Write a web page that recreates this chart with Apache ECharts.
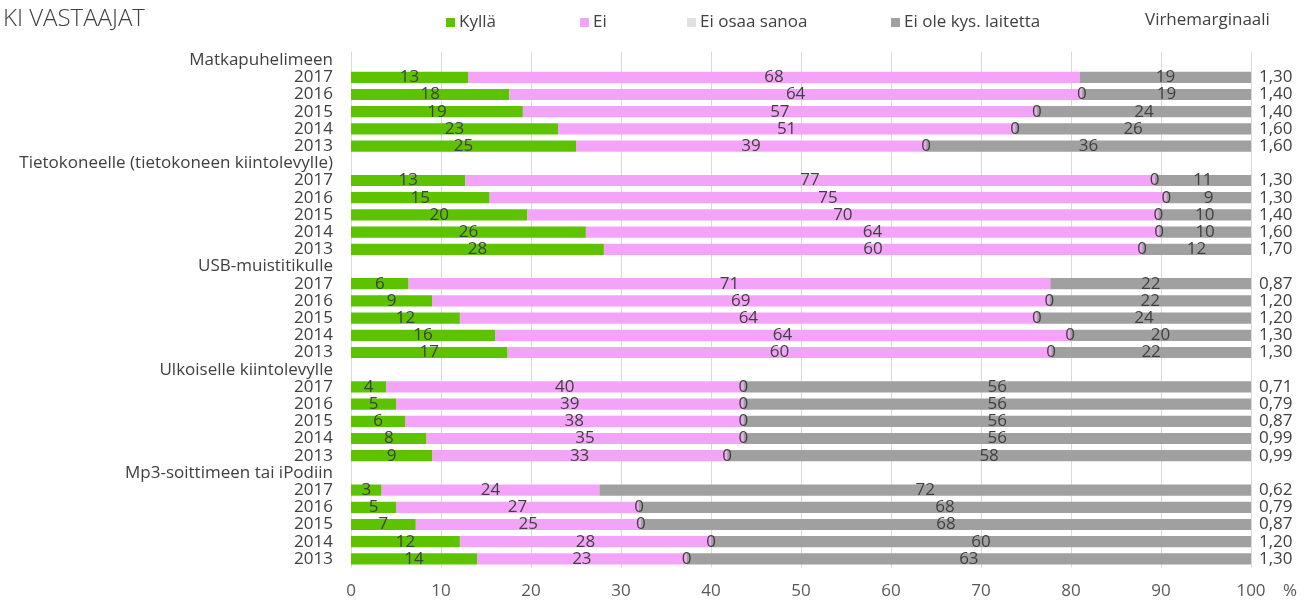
<!DOCTYPE html>
<html><head><meta charset="utf-8">
<script src="https://cdn.jsdelivr.net/npm/echarts@6/dist/echarts.min.js"></script>
<style>html,body{margin:0;padding:0;background:#fff}#c{width:1310px;height:603px}</style>
</head><body><div id="c"></div>
<script>
const groups = ['Matkapuhelimeen', 'Tietokoneelle (tietokoneen kiintolevylle)', 'USB-muistitikulle', 'Ulkoiselle kiintolevylle', 'Mp3-soittimeen tai iPodiin'];
const years = ['2017', '2016', '2015', '2014', '2013'];
const seriesNames = ['Kyllä', 'Ei', 'Ei osaa sanoa', 'Ei ole kys. laitetta'];
// values per group, rows in year order 2017..2013
const kylla = [
  [13.0, 17.6, 19.1, 23.0, 25.0],
  [12.7, 15.4, 19.6, 26.1, 28.1],
  [6.4, 9.0, 12.1, 16.0, 17.4],
  [3.9, 5.0, 6.0, 8.4, 9.0],
  [3.4, 5.0, 7.2, 12.1, 14.0]
];
const ei = [
  [68.0, 63.6, 57.1, 50.8, 38.9],
  [76.6, 75.2, 70.1, 63.7, 59.8],
  [71.3, 68.6, 64.1, 63.9, 60.4],
  [39.7, 38.6, 37.6, 35.2, 32.8],
  [24.2, 27.0, 25.0, 27.9, 23.3]
];
const eiOsaa = [
  [null, 0, 0, 0, 0],
  [0, 0, 0, 0, 0],
  [null, 0, 0, 0, 0],
  [0, 0, 0, 0, 0],
  [null, 0, 0, 0, 0]
];
const eiOle = [
  [19.0, 18.8, 23.8, 26.2, 36.1],
  [10.7, 9.4, 10.3, 10.2, 12.1],
  [22.3, 22.4, 23.8, 20.1, 22.2],
  [56.4, 56.4, 56.4, 56.4, 58.2],
  [72.4, 68.0, 67.8, 60.0, 62.7]
];
const virhe = [
  [1.30, 1.40, 1.40, 1.60, 1.60],
  [1.30, 1.30, 1.40, 1.60, 1.70],
  [0.87, 1.20, 1.20, 1.30, 1.30],
  [0.71, 0.79, 0.87, 0.99, 0.99],
  [0.62, 0.79, 0.87, 1.20, 1.30]
];
const xTicks = {min: 0, max: 100, interval: 10};
const colors = ['#5DC300', '#F4A4F8', '#E0E0E0', '#A0A0A0'];

// build rows: group header + years
const cats = [], rightCats = [];
const sData = [[], [], [], []];
const src = [kylla, ei, eiOsaa, eiOle];
groups.forEach((g, gi) => {
  cats.push('H' + gi + '|' + g); rightCats.push('H' + gi + '|');
  sData.forEach(a => a.push(null));
  years.forEach((y, yi) => {
    cats.push(gi + '_' + yi + '|' + y);
    rightCats.push(gi + '_' + yi + '|' + virhe[gi][yi].toFixed(2).replace('.', ','));
    src.forEach((arr, si) => sData[si].push(arr[gi][yi]));
  });
});

const FONT = 'Open Sans';
const TXT = '#404040';
const FS = 17;
const chart = echarts.init(document.getElementById('c'), null, {renderer: 'canvas'});
const legendPos = [441, 575, 682, 886];
chart.setOption({
  animation: false,
  textStyle: {fontFamily: FONT},
  title: [
    {text: 'KI VASTAAJAT', left: -2, top: 2, textStyle: {fontFamily: FONT, fontSize: 24, fontWeight: 300, color: TXT}},
    {text: 'Virhemarginaali', left: 1140, top: 7, textStyle: {fontFamily: FONT, fontSize: FS, fontWeight: 'normal', color: TXT}}
  ],
  legend: seriesNames.map((n, i) => ({
    data: [n], left: legendPos[i], top: 9, icon: 'rect', itemWidth: 9, itemHeight: 9, itemGap: 5,
    textStyle: {fontFamily: FONT, fontSize: FS, color: TXT, padding: [0, 0, 0, -1]}
  })),
  grid: {left: 351, right: 59, top: 51.5, bottom: 35.5, containLabel: false},
  xAxis: {
    type: 'value', min: xTicks.min, max: xTicks.max, interval: xTicks.interval,
    axisLine: {show: false}, axisTick: {show: false},
    splitLine: {lineStyle: {color: '#D9D9D9', width: 1}},
    axisLabel: {fontFamily: FONT, fontSize: FS, color: '#595959', margin: 15},
    name: '%', nameLocation: 'end', nameGap: 32,
    nameTextStyle: {fontFamily: FONT, fontSize: FS, color: '#595959', verticalAlign: 'top', padding: [15, 0, 0, 0]}
  },
  yAxis: [
    {type: 'category', inverse: true, data: cats,
      axisLine: {show: false}, axisTick: {show: false},
      axisLabel: {interval: 0, fontFamily: FONT, fontSize: FS, color: TXT, margin: 18, formatter: v => v.split('|')[1]}},
    {type: 'category', inverse: true, position: 'right', data: rightCats,
      axisLine: {show: false}, axisTick: {show: false},
      axisLabel: {interval: 0, fontFamily: FONT, fontSize: FS, color: TXT, margin: 8, formatter: v => v.split('|')[1]}}
  ],
  series: seriesNames.map((n, i) => ({
    name: n, type: 'bar', stack: 'all', barWidth: '65%', yAxisIndex: 0,
    itemStyle: {color: colors[i]},
    data: sData[i],
    label: {show: true, position: 'inside', fontFamily: FONT, fontSize: FS, color: TXT,
      formatter: p => (p.value === null || p.value === undefined) ? '' : String(Math.round(p.value))}
  }))
});
</script></body></html>
